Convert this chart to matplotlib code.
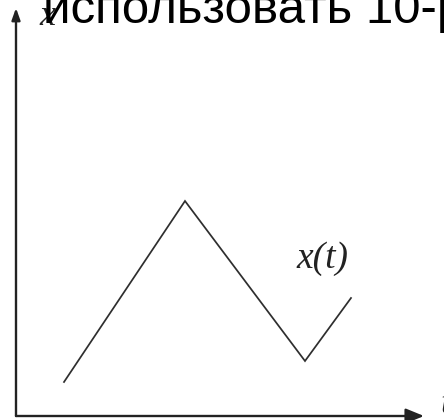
import matplotlib
matplotlib.use("Agg")
import matplotlib.pyplot as plt

# Piecewise-linear signal x(t): breakpoints in plot units
t_vals = [48, 169, 289, 335]
x_vals = [34, 215, 55, 118]

title_text = "использовать 10-р"
curve_label = "x(t)"
x_axis_label = "t"
y_axis_label = "x"

fig = plt.figure(figsize=(4.44, 4.20), dpi=100)
ax = fig.add_axes([0, 0, 1, 1])
ax.set_xlim(-16, 428)
ax.set_ylim(-4, 416)
ax.axis("off")

axis_color = "#222222"
# coordinate axes with arrowheads
ax.annotate("", xy=(408, 0), xytext=(0, 0),
            arrowprops=dict(arrowstyle="-|>,head_length=1.1,head_width=0.45",
                            color=axis_color, lw=1.7, shrinkA=0, shrinkB=0))
ax.annotate("", xy=(0, 408), xytext=(0, 0),
            arrowprops=dict(arrowstyle="-|>,head_length=0.7,head_width=0.25",
                            color=axis_color, lw=1.7, shrinkA=0, shrinkB=0))

# the signal
ax.plot(t_vals, x_vals, color="#2e2e2e", lw=1.25, solid_joinstyle="miter")

serif = dict(family="Liberation Serif", style="italic", color="#222222")
ax.text(306, 148, curve_label, fontsize=27, ha="center", va="baseline", **serif)
ax.text(31, 391, y_axis_label, fontsize=26, ha="center", va="baseline", **serif)
ax.text(424, 3, x_axis_label, fontsize=26, ha="left", va="baseline", **serif)

ax.text(27, 393, title_text, fontsize=35.5, family="Liberation Sans",
        color="black", ha="left", va="baseline")

fig.savefig("out.png", dpi=100)
